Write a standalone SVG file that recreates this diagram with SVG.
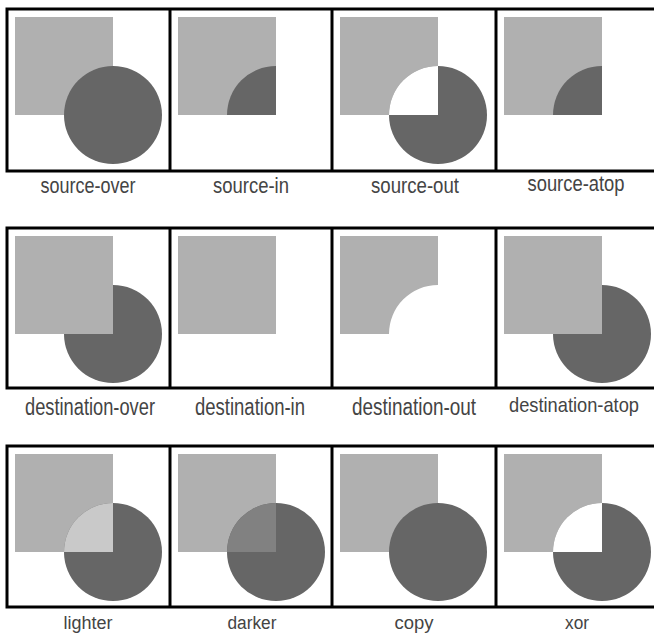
<svg xmlns="http://www.w3.org/2000/svg" xmlns:xlink="http://www.w3.org/1999/xlink" width="654" height="633" viewBox="0 0 654 633">
<style>
.sq{fill:#b0b0b0}
.ci{fill:#666666}
.wh{fill:#ffffff}
.lt{fill:#c9c9c9}
.dk{fill:#818181}
.frame{fill:none;stroke:#000;stroke-width:3}
.lbl{font-family:"Liberation Sans",Arial,sans-serif;fill:#444444;text-anchor:middle}
.r1{font-size:22px}
.r2{font-size:23px}
.r3{font-size:18px}
.r4{font-size:21px}
</style>
<defs>
<rect id="S" x="8" y="8" width="98" height="98"/>
<circle id="C" cx="106" cy="106" r="49"/>
<path id="Q" d="M106,106 L57,106 A49,49 0 0 1 106,57 Z"/>
<path id="D" d="M8,8 H106 V57 A49,49 0 0 0 57,106 H8 Z"/>
</defs>
<rect width="654" height="633" fill="#fff"/>
<g id="frames">
<rect class="frame" x="7" y="9" width="660" height="162"/>
<line class="frame" x1="170" y1="9" x2="170" y2="171"/>
<line class="frame" x1="332" y1="9" x2="332" y2="171"/>
<line class="frame" x1="496" y1="9" x2="496" y2="171"/>
<rect class="frame" x="7" y="228" width="660" height="160"/>
<line class="frame" x1="170" y1="228" x2="170" y2="388"/>
<line class="frame" x1="332" y1="228" x2="332" y2="388"/>
<line class="frame" x1="496" y1="228" x2="496" y2="388"/>
<rect class="frame" x="7" y="446" width="660" height="161"/>
<line class="frame" x1="170" y1="446" x2="170" y2="607"/>
<line class="frame" x1="332" y1="446" x2="332" y2="607"/>
<line class="frame" x1="496" y1="446" x2="496" y2="607"/>
</g>
<g id="source-over" transform="translate(7,9)"><use href="#S" class="sq"/><use href="#C" class="ci"/></g>
<g id="source-in" transform="translate(170,9)"><use href="#S" class="sq"/><use href="#Q" class="ci"/></g>
<g id="source-out" transform="translate(332,9)"><use href="#S" class="sq"/><use href="#C" class="ci"/><use href="#Q" class="wh"/></g>
<g id="source-atop" transform="translate(496,9)"><use href="#S" class="sq"/><use href="#Q" class="ci"/></g>
<g id="destination-over" transform="translate(7,228)"><use href="#C" class="ci"/><use href="#S" class="sq"/></g>
<g id="destination-in" transform="translate(170,228)"><use href="#S" class="sq"/></g>
<g id="destination-out" transform="translate(332,228)"><use href="#D" class="sq"/></g>
<g id="destination-atop" transform="translate(496,228)"><use href="#C" class="ci"/><use href="#S" class="sq"/></g>
<g id="lighter" transform="translate(7,446)"><use href="#S" class="sq"/><use href="#C" class="ci"/><use href="#Q" class="lt"/></g>
<g id="darker" transform="translate(170,446)"><use href="#S" class="sq"/><use href="#C" class="ci"/><use href="#Q" class="dk"/></g>
<g id="copy" transform="translate(332,446)"><use href="#S" class="sq"/><use href="#C" class="ci"/></g>
<g id="xor" transform="translate(496,446)"><use href="#S" class="sq"/><use href="#C" class="ci"/><use href="#Q" class="wh"/></g>
<g id="labels">
<text class="lbl r1" x="88" y="193" textLength="95" lengthAdjust="spacingAndGlyphs">source-over</text>
<text class="lbl r1" x="251" y="193" textLength="76" lengthAdjust="spacingAndGlyphs">source-in</text>
<text class="lbl r1" x="415" y="193" textLength="88" lengthAdjust="spacingAndGlyphs">source-out</text>
<text class="lbl r1" x="576" y="191" textLength="97" lengthAdjust="spacingAndGlyphs">source-atop</text>
<text class="lbl r2" x="90" y="415" textLength="130" lengthAdjust="spacingAndGlyphs">destination-over</text>
<text class="lbl r2" x="250" y="415" textLength="110" lengthAdjust="spacingAndGlyphs">destination-in</text>
<text class="lbl r2" x="414" y="415" textLength="124" lengthAdjust="spacingAndGlyphs">destination-out</text>
<text class="lbl r4" x="574" y="412" textLength="130" lengthAdjust="spacingAndGlyphs">destination-atop</text>
<text class="lbl r3" x="88" y="629" textLength="49" lengthAdjust="spacingAndGlyphs">lighter</text>
<text class="lbl r3" x="252" y="629" textLength="49" lengthAdjust="spacingAndGlyphs">darker</text>
<text class="lbl r3" x="414" y="629" textLength="39" lengthAdjust="spacingAndGlyphs">copy</text>
<text class="lbl r3" x="577" y="629" textLength="24" lengthAdjust="spacingAndGlyphs">xor</text>
</g>
</svg>
